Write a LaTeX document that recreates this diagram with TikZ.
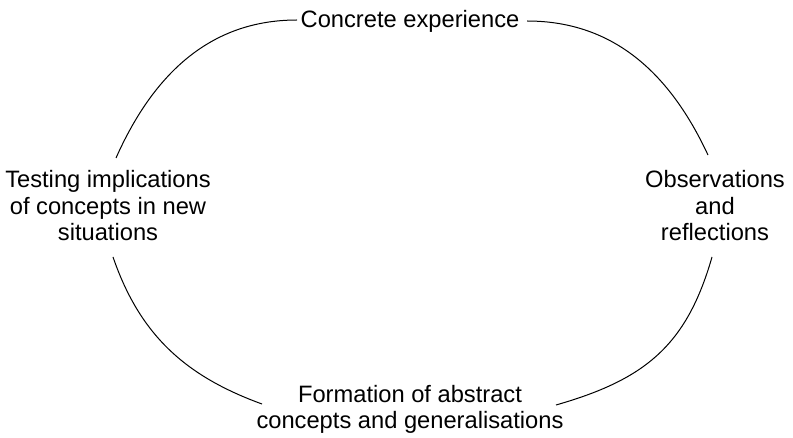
\documentclass[tikz,border=0pt]{standalone}
\usepackage{fontspec}
\setmainfont{Liberation Sans}
\begin{document}
\begin{tikzpicture}[x=1pt,y=1pt,
  lbl/.style={font=\fontsize{23.7}{26.5}\selectfont, align=center, inner sep=0pt},
  arc/.style={line width=1pt}]
\useasboundingbox (0,0) rectangle (793,437);
\node[lbl, anchor=base] (ce) at (410,409) {Concrete experience};
\node[lbl] (obs) at (715,231.4) {Observations\\and\\reflections};
\node[lbl] (form) at (410,27.5) {Formation of abstract\\concepts and generalisations};
\node[lbl] (test) at (108,231.4) {Testing implications\\of concepts in new\\situations};
\coordinate (tl1) at (297,417);
\coordinate (tl2) at (116,279);
\coordinate (tr1) at (527,416);
\coordinate (tr2) at (708,282);
\coordinate (bl1) at (113,180);
\coordinate (bl2) at (262,33);
\coordinate (br1) at (712,180);
\coordinate (br2) at (556,32);
\draw[arc] (tl1) to[out=180,in=66] (tl2);
\draw[arc] (tr1) to[out=0,in=115] (tr2);
\draw[arc] (bl1) to[out=-71,in=160] (bl2);
\draw[arc] (br1) to[out=-106,in=16,looseness=1.1] (br2);
\end{tikzpicture}
\end{document}
